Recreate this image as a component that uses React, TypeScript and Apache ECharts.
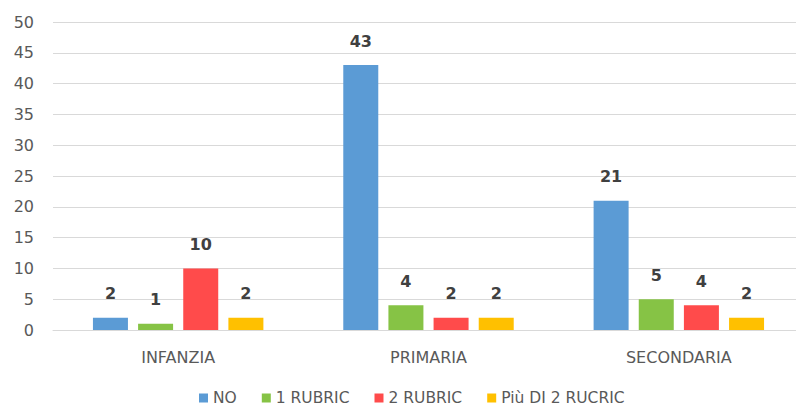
import React, { useEffect, useRef } from "react";
import * as echarts from "echarts";

const categories = ["INFANZIA", "PRIMARIA", "SECONDARIA"];
const seriesNames = ["NO", "1 RUBRIC", "2 RUBRIC", "Più DI 2 RUCRIC"];
const noValues = [2, 43, 21];
const oneRubric = [1, 4, 5];
const twoRubric = [10, 2, 4];
const moreRubric = [2, 2, 2];
const colors = ["#5B9BD5", "#86C345", "#FF4B4B", "#FFC000"];

const FONT = "DejaVu Sans";

export default function App() {
  const ref = useRef<HTMLDivElement>(null);
  useEffect(() => {
    if (!ref.current) return;
    const chart = echarts.init(ref.current, null, { renderer: "svg" });
    const data = [noValues, oneRubric, twoRubric, moreRubric];
    chart.setOption({
      animation: false,
      backgroundColor: "#ffffff",
      textStyle: { fontFamily: FONT },
      grid: { left: 53, right: 0, top: 22, bottom: 81, containLabel: false },
      legend: {
        top: 385,
        left: 194,
        itemWidth: 9,
        itemHeight: 9,
        itemGap: 25,
        icon: "rect",
        textStyle: { color: "#595959", fontSize: 15.5, fontFamily: FONT },
        data: seriesNames,
      },
      xAxis: {
        type: "category",
        data: categories,
        axisLine: { lineStyle: { color: "#d9d9d9" } },
        axisTick: { show: false },
        axisLabel: { color: "#595959", fontSize: 16, margin: 19, fontFamily: FONT },
      },
      yAxis: {
        type: "value",
        min: 0,
        max: 50,
        interval: 5,
        axisLine: { show: false },
        axisTick: { show: false },
        splitLine: { lineStyle: { color: "#d9d9d9" } },
        axisLabel: { color: "#595959", fontSize: 16, margin: 19, fontFamily: FONT },
      },
      series: seriesNames.map((name, i) => ({
        name,
        type: "bar",
        data: data[i],
        barWidth: 35,
        barGap: "29%",
        itemStyle: { color: colors[i] },
        label: {
          show: true,
          position: "top",
          distance: 16,
          color: "#404040",
          fontSize: 16,
          fontWeight: "bold",
          fontFamily: FONT,
        },
      })),
    });
    return () => chart.dispose();
  }, []);
  return <div ref={ref} style={{ width: 804, height: 411, margin: -8 }} />;
}
